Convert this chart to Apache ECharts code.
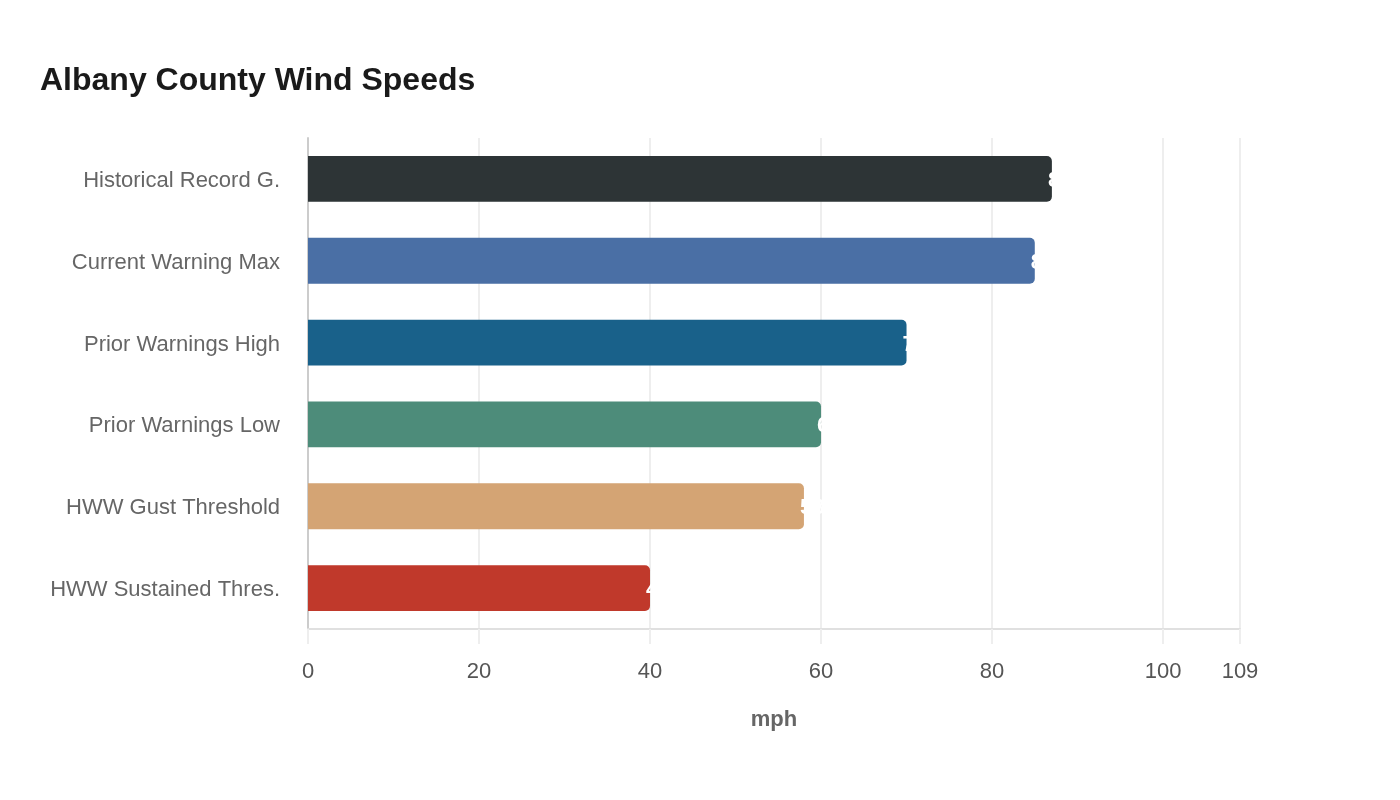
<!DOCTYPE html>
<html>
<head>
<meta charset="utf-8">
<script src="https://cdn.jsdelivr.net/npm/echarts@6/dist/echarts.min.js"></script>
<style>html,body{margin:0;padding:0;background:#fff}#c{width:1400px;height:800px}</style>
</head>
<body>
<div id="c"></div>
<script>
const categories = ["Historical Record G.", "Current Warning Max", "Prior Warnings High", "Prior Warnings Low", "HWW Gust Threshold", "HWW Sustained Thres."];
const values = [87, 85, 70, 60, 58, 40];
const barColors = ["#2d3436", "#4a6fa5", "#19618a", "#4d8c7a", "#d4a474", "#c0392b"];
const xMax = 109;

const FONT = '"Helvetica Neue", Helvetica, Arial, sans-serif';
const chart = echarts.init(document.getElementById('c'));
chart.setOption({
  backgroundColor: '#ffffff',
  animation: false,
  title: {
    text: 'Albany County Wind Speeds',
    left: 35, top: 60,
    textStyle: { fontFamily: FONT, fontSize: 32, fontWeight: 'bold', color: '#1a1a1a' }
  },
  grid: { left: 308, right: 160, top: 138, bottom: 171 },
  xAxis: {
    type: 'value', min: 0, max: xMax, interval: 20,
    name: 'mph', nameLocation: 'middle', nameGap: 80,
    nameTextStyle: { fontFamily: FONT, fontSize: 22, fontWeight: 'bold', color: '#666' },
    axisLine: { show: true, lineStyle: { color: '#e0e0e0', width: 2 } },
    axisTick: { show: true, length: 15, lineStyle: { color: '#eeeeee', width: 2 } },
    axisLabel: { margin: 32, fontFamily: FONT, fontSize: 22, color: '#555', showMaxLabel: true },
    splitLine: { show: true, lineStyle: { color: '#eeeeee', width: 2 } }
  },
  yAxis: {
    type: 'category', data: categories, inverse: true,
    axisLine: { show: true, lineStyle: { color: '#cccccc', width: 2 } },
    axisTick: { show: false },
    axisLabel: {
      margin: 28, formatter: '{t|{value}}',
      rich: { t: { padding: [4, 0, 0, 0], fontFamily: FONT, fontSize: 22, color: '#666' } }
    },
    splitLine: { show: false }
  },
  series: [{
    type: 'bar',
    data: values.map((v, i) => ({ value: v, itemStyle: { color: barColors[i] } })),
    barWidth: '56%',
    itemStyle: { borderRadius: [0, 5, 5, 0] },
    label: {
      show: true, position: 'right', distance: -4, formatter: '{t|{c}}',
      rich: { t: { padding: [4, 0, 0, 0], color: '#ffffff', fontFamily: FONT, fontSize: 22, fontWeight: 'bold' } }
    }
  }]
});
</script>
</body>
</html>
